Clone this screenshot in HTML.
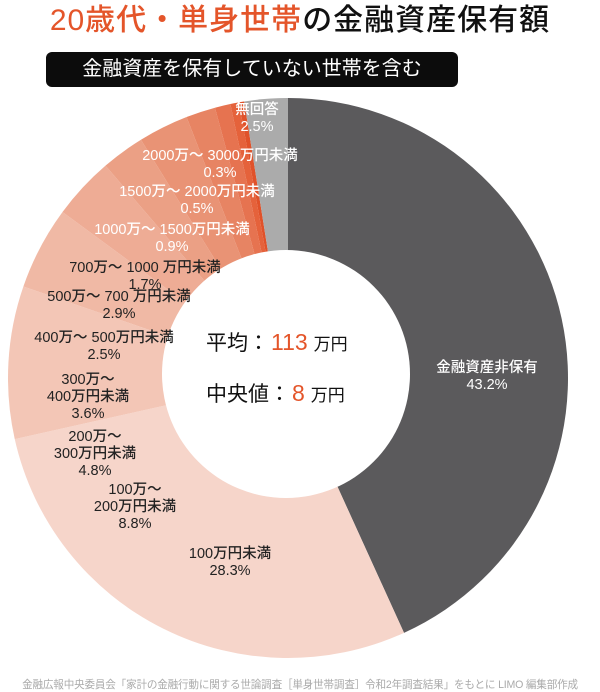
<!DOCTYPE html>
<html><head><meta charset="utf-8">
<style>
html,body{margin:0;padding:0;background:#fff;}
body{width:600px;height:692px;overflow:hidden;position:relative;font-family:"Liberation Sans","Noto Sans CJK JP",sans-serif;}
#title{position:absolute;left:0;width:600px;top:2px;text-align:center;font-size:30px;line-height:38px;color:#111;letter-spacing:1px;font-weight:500;}
#title .o{color:#e4552a;}
#sub{position:absolute;left:46px;top:52px;width:412px;height:35px;background:#0c0c0c;border-radius:6px;color:#fff;font-size:20px;line-height:35px;text-align:center;}
#foot{position:absolute;left:0;width:600px;top:677px;text-align:center;font-size:10.6px;color:#aaa;white-space:nowrap;letter-spacing:-0.2px;}
svg{position:absolute;left:0;top:0;}
</style></head><body>
<div id="title"><span class="o">20歳代・単身世帯</span>の金融資産保有額</div>
<div id="sub">金融資産を保有していない世帯を含む</div>
<svg id="chart" width="600" height="692"></svg>
<div id="foot">金融広報中央委員会「家計の金融行動に関する世論調査［単身世帯調査］令和2年調査結果」をもとに LIMO 編集部作成</div>
<script>
const categories=["金融資産非保有","100万円未満","100万〜200万円未満","200万〜300万円未満","300万〜400万円未満","400万〜500万円未満","500万〜700万円未満","700万〜1000万円未満","1000万〜1500万円未満","1500万〜2000万円未満","2000万〜3000万円未満","無回答"];
const values=[43.2,28.3,8.8,4.8,3.6,2.5,2.9,1.7,0.9,0.5,0.3,2.5];
const colors=["#5b5a5c","#f6d5ca","#f3c6b6","#f0b9a5","#eeac95","#eba085","#e99375","#e78463","#e67350","#e5623b","#e0522a","#ababab"];
const labelLines=[["金融資産非保有","43.2%"],["100万円未満","28.3%"],["100万〜","200万円未満","8.8%"],["200万〜","300万円未満","4.8%"],["300万〜","400万円未満","3.6%"],["400万〜 500万円未満","2.5%"],["500万〜 700 万円未満","2.9%"],["700万〜 1000 万円未満","1.7%"],["1000万〜 1500万円未満","0.9%"],["1500万〜 2000万円未満","0.5%"],["2000万〜 3000万円未満","0.3%"],["無回答","2.5%"]];
const labelPos=[[487,372],[230,558],[135,494],[95,441],[88,384],[104,342],[119,301],[145,272],[172,234],[197,196],[220,160],[257,114]];
const labelColor=["#fff","#222","#222","#222","#222","#222","#222","#222","#fff","#fff","#fff","#fff"];
const cx=288,cy=378,R=280,r0=124;
const svg=document.getElementById('chart');
const NS="http://www.w3.org/2000/svg";
const total=values.reduce((a,b)=>a+b,0);
function ang(v){return v/total*2*Math.PI;}
function pt(a,rad){return [cx+rad*Math.sin(a),cy-rad*Math.cos(a)];}
let acc=0;
values.forEach((v,i)=>{
  const a0=ang(acc),a1=ang(acc+v);acc+=v;
  const p0=pt(a0,R),p1=pt(a1,R);
  const large=(a1-a0)>Math.PI?1:0;
  const p=document.createElementNS(NS,'path');
  p.setAttribute('d',`M${cx},${cy}L${p0[0]},${p0[1]}A${R},${R} 0 ${large} 1 ${p1[0]},${p1[1]}Z`);
  p.setAttribute('fill',colors[i]);
  
  
  svg.appendChild(p);
});
const hole=document.createElementNS(NS,'circle');
hole.setAttribute('cx',286);hole.setAttribute('cy',374);hole.setAttribute('r',r0);hole.setAttribute('fill','#fff');


svg.appendChild(hole);
labelLines.forEach((lines,i)=>{
  const t=document.createElementNS(NS,'text');
  t.setAttribute('x',labelPos[i][0]);t.setAttribute('y',labelPos[i][1]);
  t.setAttribute('text-anchor','middle');t.setAttribute('font-size','14.5');t.setAttribute('fill',labelColor[i]);t.setAttribute('font-weight','500');
  
  
  lines.forEach((s,j)=>{const ts=document.createElementNS(NS,'tspan');ts.setAttribute('x',labelPos[i][0]);ts.setAttribute('dy',j?17:0);ts.textContent=s;t.appendChild(ts);});
  svg.appendChild(t);
});
function center(y,a,b,c,name){
  const t=document.createElementNS(NS,'text');
  t.setAttribute('x',206);t.setAttribute('y',y);t.setAttribute('font-size','21');t.setAttribute('fill','#111');
  
  
  t.innerHTML=`${a}<tspan fill="#e4552a" font-size="23" dx="2">${b}</tspan><tspan dx="6" font-size="17">${c}</tspan>`;
  svg.appendChild(t);
}
center(350,"平均：","113","万円","mean-label");
center(401,"中央値：","8","万円","median-label");
</script>
</body></html>
